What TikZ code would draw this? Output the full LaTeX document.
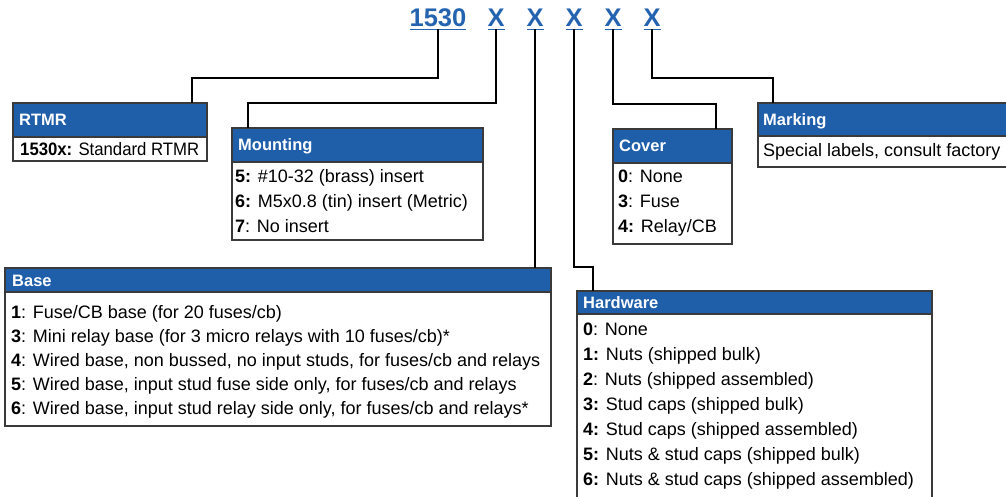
\documentclass[tikz,border=0pt]{standalone}
\usepackage{fontspec}
\setmainfont{Liberation Sans}
\definecolor{hblue}{HTML}{1F5FAA}
\definecolor{tblue}{HTML}{2463B0}
\definecolor{bord}{HTML}{3A3A3A}
\begin{document}
\begin{tikzpicture}[x=1pt,y=-1pt,
  boxframe/.style={draw=bord, line width=1.3pt, fill=white, inner sep=0pt, outer sep=0pt, anchor=north west},
  hdrbar/.style={draw=bord, line width=1.3pt, fill=hblue, inner sep=0pt, outer sep=0pt, anchor=north west},
  hdrtext/.style={text=white, font=\fontsize{16.5}{18}\selectfont\bfseries, anchor=base west, inner sep=0pt},
  bodytext/.style={font=\fontsize{18}{24.5}\selectfont, anchor=base west, inner sep=0pt, align=left},
  conn/.style={draw=black, line width=1.3pt},
  titletext/.style={text=tblue, font=\fontsize{25.5}{26}\selectfont\bfseries, anchor=base, inner sep=0pt, outer sep=0pt, text depth=2.5pt},
  uline/.style={draw=tblue, line width=1.5pt},
]
\useasboundingbox (0,0) rectangle (1006,497);

% title
\node[titletext] (t1530) at (438,27) {1530};
\node[titletext] (x1) at (496,27) {X};
\node[titletext] (x2) at (535,27) {X};
\node[titletext] (x3) at (574,27) {X};
\node[titletext] (x4) at (613,27) {X};
\node[titletext] (x5) at (652,27) {X};
\foreach \n in {t1530,x1,x2,x3,x4,x5}
  \draw[uline] (\n.south west) -- (\n.south east);

% RTMR
\node[boxframe, minimum width=194pt, minimum height=58pt] (rtmr) at (13,103) {};
\node[hdrbar, minimum width=194pt, minimum height=34pt] (rtmrH) at (13,103) {};
\node[hdrtext] (rtmrHT) at (19,126) {RTMR};
\node[bodytext] (rtmrT) at (20,155.5) {\addfontfeatures{FakeStretch=0.93}\textbf{1530x:} Standard RTMR};

% Mounting
\node[boxframe, minimum width=251pt, minimum height=112pt] (mount) at (232,128) {};
\node[hdrbar, minimum width=251pt, minimum height=34pt] (mountH) at (232,128) {};
\node[hdrtext] (mountHT) at (238,151) {Mounting};
\node[bodytext] (mountT) at (235,232) {\textbf{5:} \#10-32 (brass) insert\\\textbf{6:} M5x0.8 (tin) insert (Metric)\\\textbf{7}: No insert};

% Cover
\node[boxframe, minimum width=119pt, minimum height=115pt] (cover) at (613,129) {};
\node[hdrbar, minimum width=119pt, minimum height=34pt] (coverH) at (613,129) {};
\node[hdrtext] (coverHT) at (619,152) {Cover};
\node[bodytext] (coverT) at (618,232) {\textbf{0}: None\\\textbf{3}: Fuse\\\textbf{4:} Relay/CB};

% Marking
\node[boxframe, minimum width=260pt, minimum height=64pt] (mark) at (758,103) {};
\node[hdrbar, minimum width=260pt, minimum height=33pt] (markH) at (758,103) {};
\node[hdrtext] (markHT) at (763,125.5) {Marking};
\node[bodytext] (markT) at (763,156.5) {Special labels, consult factory};

% Base
\node[boxframe, minimum width=546pt, minimum height=158pt] (base) at (5,268) {};
\node[hdrbar, minimum width=546pt, minimum height=24pt] (baseH) at (5,268) {};
\node[hdrtext] (baseHT) at (12,286) {Base};
\node[bodytext, font=\fontsize{18}{24}\selectfont] (baseT) at (11,414.5) {\textbf{1}: Fuse/CB base (for 20 fuses/cb)\\\textbf{3}: Mini relay base (for 3 micro relays with 10 fuses/cb)*\\\textbf{4}: Wired base, non bussed, no input studs, for fuses/cb and relays\\\textbf{5}: Wired base, input stud fuse side only, for fuses/cb and relays\\\textbf{6}: Wired base, input stud relay side only, for fuses/cb and relays*};

% Hardware
\node[boxframe, minimum width=355pt, minimum height=220pt] (hard) at (577,291) {};
\node[hdrbar, minimum width=355pt, minimum height=23pt] (hardH) at (577,291) {};
\node[hdrtext] (hardHT) at (583,308.5) {Hardware};
\node[bodytext, font=\fontsize{18}{25}\selectfont] (hardT) at (583,485.3) {\textbf{0}: None\\\textbf{1:} Nuts (shipped bulk)\\\textbf{2}: Nuts (shipped assembled)\\\textbf{3:} Stud caps (shipped bulk)\\\textbf{4:} Stud caps (shipped assembled)\\\textbf{5:} Nuts \& stud caps (shipped bulk)\\\textbf{6:} Nuts \& stud caps (shipped assembled)};

% connectors
\draw[conn] (t1530.south) -- ++(0,48.5) -| ([xshift=179pt]rtmrH.north west);
\draw[conn] (x1.south) -- ++(0,73.5) -| ([xshift=16pt]mountH.north west);
\draw[conn] (x2.south) -- (x2.south |- baseH.north);
\draw[conn] (x3.south) -- ++(0,237.5) -| ([xshift=16pt]hardH.north west);
\draw[conn] (x4.south) -- ++(0,74.5) -| ([xshift=103pt]coverH.north west);
\draw[conn] (x5.south) -- ++(0,48.5) -| ([xshift=15pt]markH.north west);
\end{tikzpicture}
\end{document}
